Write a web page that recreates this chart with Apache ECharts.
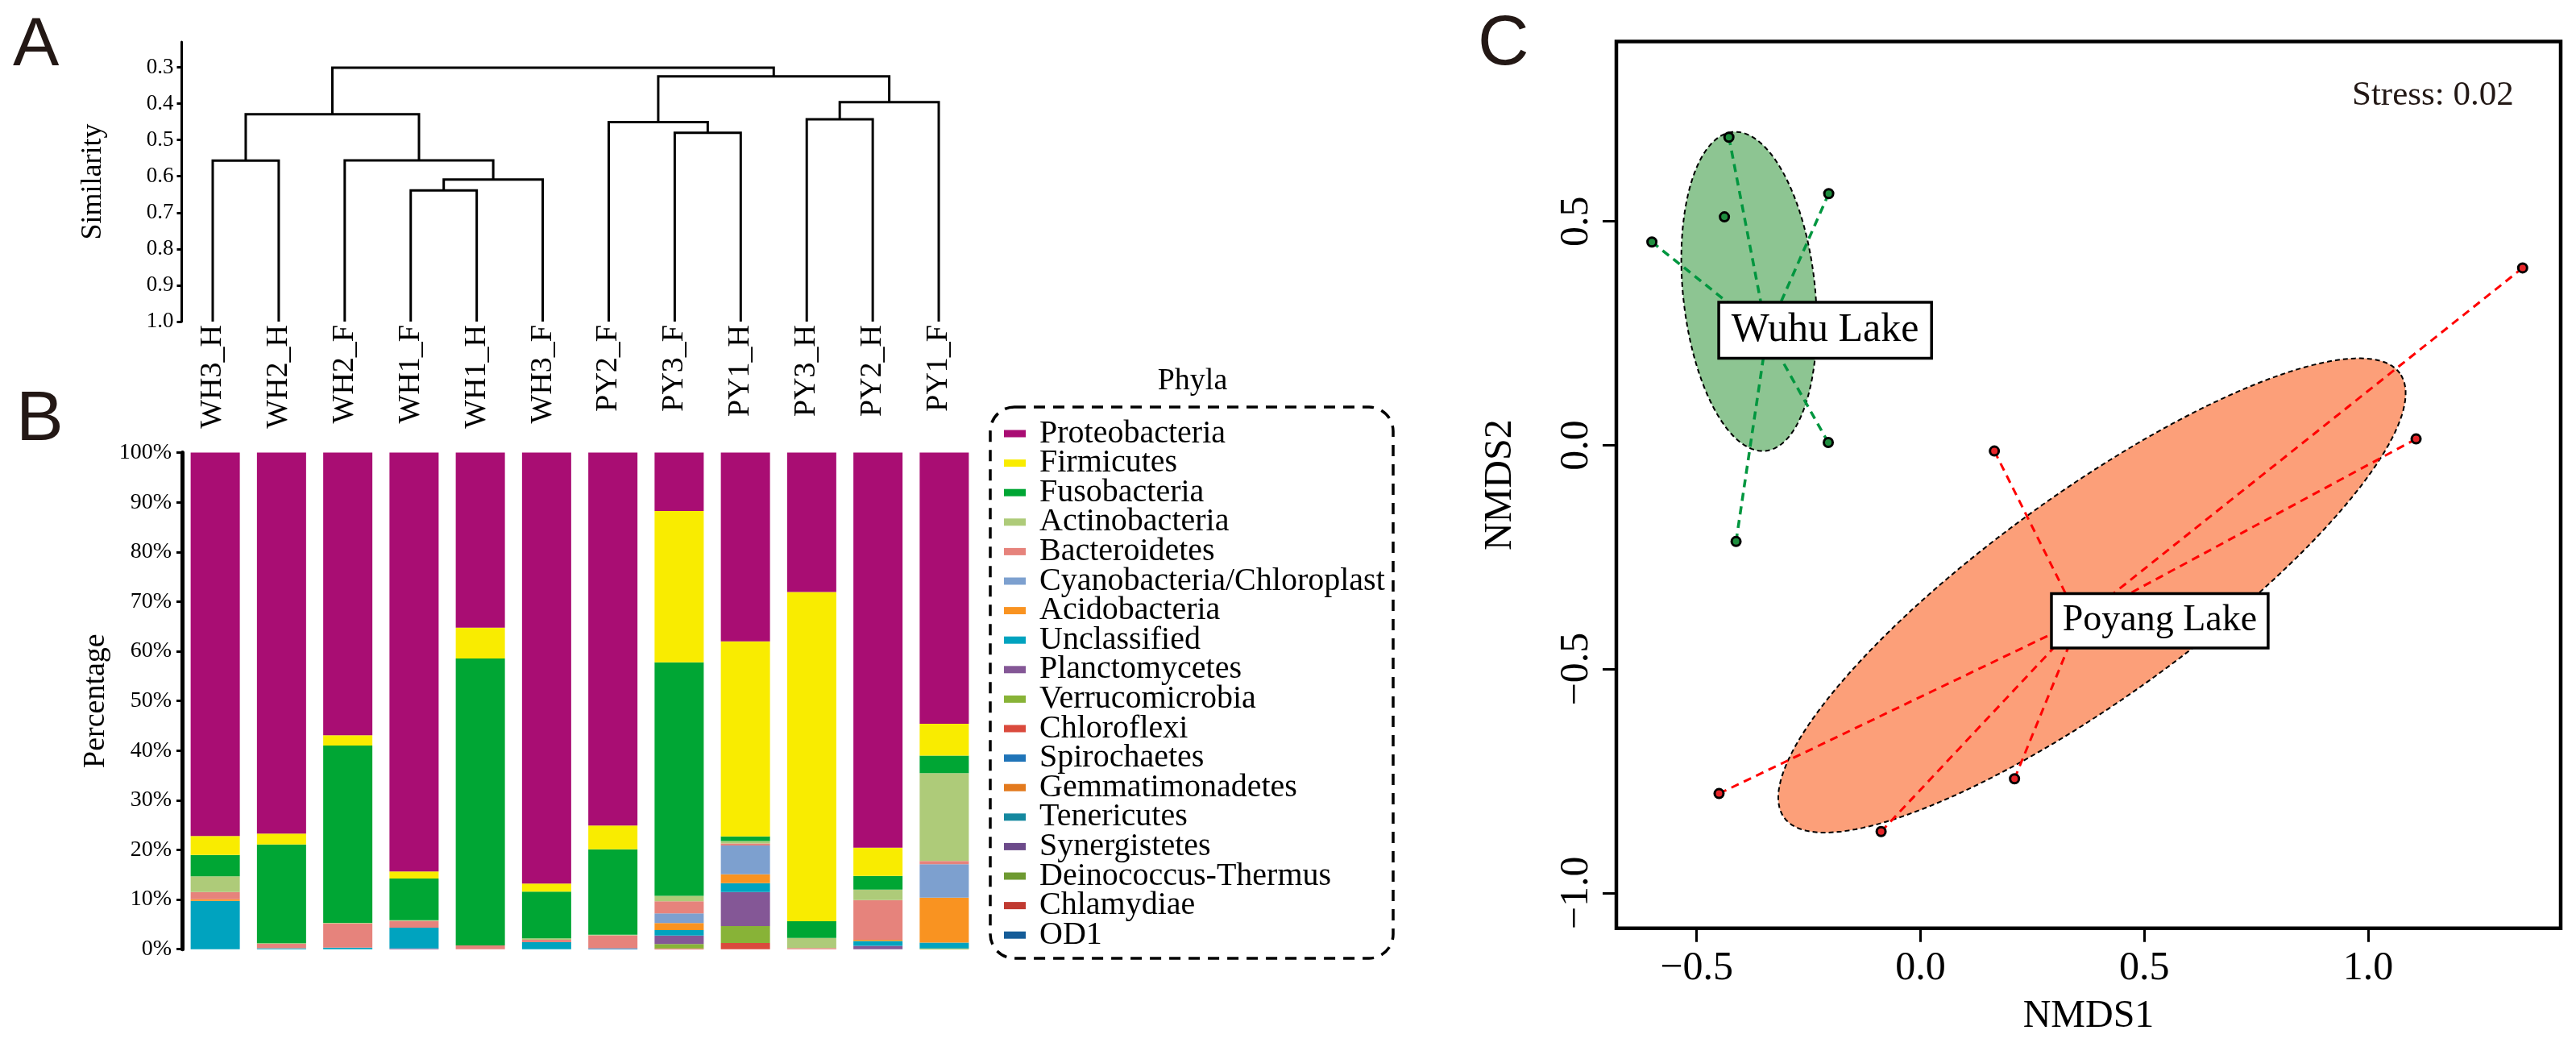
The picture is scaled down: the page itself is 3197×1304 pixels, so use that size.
<!DOCTYPE html>
<html><head><meta charset="utf-8">
<script src="https://cdn.jsdelivr.net/npm/echarts@6/dist/echarts.min.js"></script>
<style>html,body{margin:0;padding:0;background:#fff}#c{width:3197px;height:1304px}</style>
</head><body><div id="c"></div>
<script>
// ---------- data ----------
const samples = ['WH3_H','WH2_H','WH2_F','WH1_F','WH1_H','WH3_F','PY2_F','PY3_F','PY1_H','PY3_H','PY2_H','PY1_F'];

// hclust-style merges: negative = leaf (-(index+1)), positive = earlier merge (1-based); third = similarity
const dendroMerges = [
  [-4, -5, 0.639],
  [1, -6, 0.609],
  [-1, -2, 0.557],
  [-3, 2, 0.556],
  [3, 4, 0.429],
  [-8, -9, 0.480],
  [-7, 6, 0.451],
  [-10, -11, 0.443],
  [8, -12, 0.396],
  [7, 9, 0.325],
  [5, 10, 0.301]
];
const similarityTicks = [0.3, 0.4, 0.5, 0.6, 0.7, 0.8, 0.9, 1.0];
const percentTicks = [0, 10, 20, 30, 40, 50, 60, 70, 80, 90, 100];

const phyla = ['Proteobacteria','Firmicutes','Fusobacteria','Actinobacteria','Bacteroidetes','Cyanobacteria/Chloroplast','Acidobacteria','Unclassified','Planctomycetes','Verrucomicrobia','Chloroflexi','Spirochaetes','Gemmatimonadetes','Tenericutes','Synergistetes','Deinococcus-Thermus','Chlamydiae','OD1'];
const phylaColors = ['#A90D73','#F9EC00','#00A634','#AECB79','#E6837C','#7DA0CF','#F99321','#00A3BF','#845796','#88B337','#DA4A3D','#1F74B8','#E37A1E','#14889F','#6C4A8A','#6E9A31','#C03A31','#155C98'];

const proteobacteria   = [77.2, 76.7, 56.9, 84.35, 35.25, 86.8, 75.1, 11.74, 38.0, 28.05, 79.55, 54.6];
const firmicutes       = [3.8, 2.2, 2.1, 1.4, 6.2, 1.6, 4.8, 30.5, 39.3, 66.3, 5.7, 6.4];
const fusobacteria     = [4.3, 19.9, 35.7, 8.4, 57.8, 9.4, 17.2, 47.0, 0.9, 3.4, 2.75, 3.55];
const actinobacteria   = [3.2, 0.1, 0.1, 0.15, 0, 0.3, 0.1, 1.1, 0.5, 2.0, 2.1, 17.7];
const bacteroidetes    = [1.45, 0.9, 4.9, 1.35, 0.75, 0.5, 2.6, 2.45, 0.4, 0.25, 8.0, 0.65];
const cyanobacteria    = [0, 0, 0, 0, 0, 0, 0, 1.95, 5.8, 0, 0, 6.7];
const acidobacteria    = [0.3, 0, 0, 0, 0, 0, 0, 1.4, 1.8, 0, 0.25, 9.05];
const unclassified     = [9.75, 0.2, 0.3, 4.2, 0, 1.4, 0, 1.1, 1.8, 0, 0.95, 1.2];
const planctomycetes   = [0, 0, 0, 0.15, 0, 0, 0, 1.7, 6.85, 0, 0.7, 0];
const verrucomicrobia  = [0, 0, 0, 0, 0, 0, 0, 0.9, 3.4, 0, 0, 0.15];
const chloroflexi      = [0, 0, 0, 0, 0, 0, 0, 0.16, 1.25, 0, 0, 0];
const spirochaetes     = [0, 0, 0, 0, 0, 0, 0.2, 0, 0, 0, 0, 0];
const gemmatimonadetes = [0, 0, 0, 0, 0, 0, 0, 0, 0, 0, 0, 0];
const tenericutes      = [0, 0, 0, 0, 0, 0, 0, 0, 0, 0, 0, 0];
const synergistetes    = [0, 0, 0, 0, 0, 0, 0, 0, 0, 0, 0, 0];
const deinococcus      = [0, 0, 0, 0, 0, 0, 0, 0, 0, 0, 0, 0];
const chlamydiae       = [0, 0, 0, 0, 0, 0, 0, 0, 0, 0, 0, 0];
const od1              = [0, 0, 0, 0, 0, 0, 0, 0, 0, 0, 0, 0];
const phylaValues = [proteobacteria, firmicutes, fusobacteria, actinobacteria, bacteroidetes, cyanobacteria, acidobacteria, unclassified, planctomycetes, verrucomicrobia, chloroflexi, spirochaetes, gemmatimonadetes, tenericutes, synergistetes, deinococcus, chlamydiae, od1];

// NMDS
const wuhuX   = [-0.428, -0.438, -0.205, -0.600, -0.206, -0.412];
const wuhuY   = [0.688, 0.510, 0.562, 0.454, 0.006, -0.215];
const wuhuSpoke = [1, 0, 1, 1, 1, 1];
const poyangX = [1.345, 1.107, 0.165, 0.210, -0.088, -0.450];
const poyangY = [0.396, 0.014, -0.013, -0.745, -0.863, -0.778];
const poyangSpoke = [1, 1, 1, 1, 1, 1];
const wuhuCenter = [-0.343, 0.249];
const poyangCenter = [0.3545, -0.392];
// ellipse: centre x, centre y, semi-major, semi-minor, angle (deg)
const wuhuEllipse = [-0.383, 0.3435, 0.358, 0.1475, 95.9];
const poyangEllipse = [0.383, -0.3355, 0.848, 0.229, 35.8];
const wuhuLabelPos = [-0.213, 0.257];
const poyangLabelPos = [0.5345, -0.392];
const nmdsXTicks = [-0.5, 0, 0.5, 1.0];
const nmdsYTicks = [-1.0, -0.5, 0, 0.5];
const stressText = 'Stress: 0.02';

// ---------- build ----------
const SERIF = 'Liberation Serif';
const SANS = 'Liberation Sans';

function dendroSegments() {
  const nodeX = [], nodeH = [], segs = [];
  const pos = r => r < 0 ? [(-r) - 1, 1.0] : [nodeX[r - 1], nodeH[r - 1]];
  dendroMerges.forEach(([a, b, h]) => {
    const pa = pos(a), pb = pos(b);
    segs.push([pa[0], pa[1], pb[0], pb[1], h]);
    nodeX.push((pa[0] + pb[0]) / 2); nodeH.push(h);
  });
  return segs;
}

function spokes(xs, ys, flags, c) {
  const out = [];
  xs.forEach((x, i) => { if (flags[i]) out.push([x, ys[i], c[0], c[1]]); });
  return out;
}

const fmtSigned = v => (v < 0 ? '\u2212' : '') + Math.abs(v).toFixed(1);

const barSeries = [];
for (let i = phyla.length - 1; i >= 0; i--) {
  barSeries.push({
    name: phyla[i], type: 'bar', stack: 'total', xAxisIndex: 1, yAxisIndex: 1,
    barWidth: 61, data: phylaValues[i], itemStyle: { color: phylaColors[i] },
    emphasis: { disabled: true }
  });
}

function ellipseSeries(params, color) {
  return {
    type: 'custom', xAxisIndex: 2, yAxisIndex: 2, z: 2, clip: false,
    data: [params],
    renderItem: (p, api) => {
      const cx = api.value(0), cy = api.value(1), a = api.value(2), b = api.value(3), ang = api.value(4) * Math.PI / 180;
      const pts = [];
      for (let k = 0; k <= 180; k++) {
        const t = k / 180 * 2 * Math.PI, ex = a * Math.cos(t), ey = b * Math.sin(t);
        pts.push(api.coord([cx + ex * Math.cos(ang) - ey * Math.sin(ang), cy + ex * Math.sin(ang) + ey * Math.cos(ang)]));
      }
      return { type: 'polygon', shape: { points: pts }, style: { fill: color, stroke: '#000', lineWidth: 2, lineDash: [6, 4] } };
    }
  };
}

function spokeSeries(data, color, w) {
  return {
    type: 'custom', xAxisIndex: 2, yAxisIndex: 2, z: 3, clip: false,
    data: data,
    renderItem: (p, api) => {
      const a = api.coord([api.value(0), api.value(1)]), b = api.coord([api.value(2), api.value(3)]);
      return { type: 'line', shape: { x1: a[0], y1: a[1], x2: b[0], y2: b[1] }, style: { stroke: color, lineWidth: w, lineDash: [10, 7] } };
    }
  };
}

function pointSeries(xs, ys, color) {
  return {
    type: 'scatter', xAxisIndex: 2, yAxisIndex: 2, z: 4, symbol: 'circle', symbolSize: 11,
    data: xs.map((x, i) => [x, ys[i]]),
    itemStyle: { color: color, borderColor: '#000', borderWidth: 3, opacity: 1 }, emphasis: { disabled: true }
  };
}

function labelSeries(pos, name, fs, pad) {
  return {
    type: 'scatter', xAxisIndex: 2, yAxisIndex: 2, z: 6, symbol: 'rect', symbolSize: 1,
    itemStyle: { color: 'rgba(0,0,0,0)', opacity: 1 },
    data: [{ value: pos, name: name }],
    label: {
      show: true, position: 'inside', formatter: '{b}', fontFamily: SERIF, fontSize: fs, color: '#000', opacity: 1,
      backgroundColor: '#fff', borderColor: '#000', borderWidth: 3.5, padding: pad
    },
    emphasis: { disabled: true }
  };
}

const option = {
  animation: false,
  backgroundColor: '#fff',
  grid: [
    { left: 225.5, top: 52, width: 980.5, height: 347 },
    { left: 226, top: 561.6, width: 987, height: 616.1 },
    { left: 2006, top: 51.6, width: 1172, height: 1100.2, show: true, borderColor: '#000', borderWidth: 4.5, backgroundColor: 'transparent' }
  ],
  xAxis: [
    { gridIndex: 0, type: 'value', min: -0.47, max: 11.5,
      axisLine: { show: false, onZero: false }, axisTick: { show: false }, splitLine: { show: false },
      axisLabel: { customValues: samples.map((s, i) => i), formatter: v => samples[Math.round(v)], rotate: 90, margin: 4,
        fontFamily: SERIF, fontSize: 38, color: '#000' } },
    { gridIndex: 1, type: 'category', data: samples,
      axisLine: { show: false }, axisTick: { show: false }, axisLabel: { show: false } },
    { gridIndex: 2, type: 'value', min: -0.6794, max: 1.430, position: 'bottom',
      axisLine: { show: false, onZero: false }, splitLine: { show: false },
      axisTick: { show: true, customValues: nmdsXTicks, length: 17, lineStyle: { color: '#000', width: 3 } },
      axisLabel: { customValues: nmdsXTicks, formatter: fmtSigned, margin: 25, fontFamily: SERIF, fontSize: 50, color: '#000' },
      name: 'NMDS1', nameLocation: 'middle', nameGap: 86, nameTextStyle: { fontFamily: SERIF, fontSize: 48, color: '#000' } }
  ],
  yAxis: [
    { gridIndex: 0, type: 'value', inverse: true, min: 0.23, max: 1.0,
      axisLine: { show: true, onZero: false, lineStyle: { color: '#000', width: 3 } },
      axisTick: { show: true, customValues: similarityTicks, length: 6, lineStyle: { color: '#000', width: 3 } },
      axisLabel: { customValues: similarityTicks, formatter: v => v.toFixed(1), margin: 10, fontFamily: SERIF, fontSize: 27, color: '#000' },
      splitLine: { show: false },
      name: 'Similarity', nameLocation: 'middle', nameGap: 92, nameTextStyle: { fontFamily: SERIF, fontSize: 36, color: '#000' } },
    { gridIndex: 1, type: 'value', min: 0, max: 100, interval: 10,
      axisLine: { show: true, onZero: false, lineStyle: { color: '#000', width: 5 } },
      axisTick: { show: true, length: 7, lineStyle: { color: '#000', width: 3 } },
      axisLabel: { formatter: v => v + '%', margin: 13, fontFamily: SERIF, fontSize: 28, color: '#000' },
      splitLine: { show: false },
      name: 'Percentage', nameLocation: 'middle', nameGap: 88, nameTextStyle: { fontFamily: SERIF, fontSize: 38, color: '#000' } },
    { gridIndex: 2, type: 'value', min: -1.079, max: 0.9015, position: 'left',
      axisLine: { show: false, onZero: false }, splitLine: { show: false },
      axisTick: { show: true, customValues: nmdsYTicks, length: 17, lineStyle: { color: '#000', width: 3 } },
      axisLabel: { customValues: nmdsYTicks, formatter: fmtSigned, rotate: 90, margin: 24, fontFamily: SERIF, fontSize: 50, color: '#000' },
      name: 'NMDS2', nameLocation: 'middle', nameGap: 120, nameTextStyle: { fontFamily: SERIF, fontSize: 48, color: '#000' } }
  ],
  legend: {
    data: phyla, orient: 'vertical', left: 1246, top: 518, padding: 0,
    itemWidth: 27, itemHeight: 9, itemGap: -3.4, icon: 'rect', selectedMode: false,
    textStyle: { fontFamily: SERIF, fontSize: 40, color: '#000', padding: [0, 0, 0, 12] }
  },
  series: [
    {
      type: 'custom', xAxisIndex: 0, yAxisIndex: 0, clip: false,
      data: dendroSegments(),
      renderItem: (p, api) => {
        const x1 = api.value(0), y1 = api.value(1), x2 = api.value(2), y2 = api.value(3), h = api.value(4);
        return { type: 'polyline', shape: { points: [api.coord([x1, y1]), api.coord([x1, h]), api.coord([x2, h]), api.coord([x2, y2])] },
          style: { stroke: '#000', lineWidth: 3, fill: null } };
      }
    },
    ...barSeries,
    ellipseSeries(wuhuEllipse, '#8DC592'),
    ellipseSeries(poyangEllipse, '#FC9F79'),
    spokeSeries(spokes(wuhuX, wuhuY, wuhuSpoke, wuhuCenter), '#00963F', 3.5),
    spokeSeries(spokes(poyangX, poyangY, poyangSpoke, poyangCenter), '#FF0000', 3),
    pointSeries(wuhuX, wuhuY, '#1E8E3E'),
    pointSeries(poyangX, poyangY, '#E8262A'),
    labelSeries(wuhuLabelPos, 'Wuhu Lake', 50, [8, 14, 8, 14]),
    labelSeries(poyangLabelPos, 'Poyang Lake', 46, [9, 12, 9, 12])
  ],
  graphic: [
    { type: 'text', left: 16, top: 14, style: { text: 'A', fontFamily: SANS, fontSize: 86, fill: '#231815' } },
    { type: 'text', left: 20, top: 478, style: { text: 'B', fontFamily: SANS, fontSize: 88, fill: '#231815' } },
    { type: 'text', left: 1834, top: 12, style: { text: 'C', fontFamily: SANS, fontSize: 88, fill: '#231815' } },
    { type: 'text', left: 2919, top: 97, style: { text: stressText, fontFamily: SERIF, fontSize: 43, fill: '#231815' } },
    { type: 'text', x: 1480, y: 473, style: { text: 'Phyla', fontFamily: SERIF, fontSize: 38, fill: '#000', align: 'center', verticalAlign: 'middle' } },
    { type: 'rect', shape: { x: 1229, y: 505, width: 500, height: 684, r: 30 },
      style: { fill: 'none', stroke: '#000', lineWidth: 3.5, lineDash: [14, 10] } }
  ]
};

const chart = echarts.init(document.getElementById('c'), null, { renderer: 'canvas' });
chart.setOption(option);
</script>
</body></html>
